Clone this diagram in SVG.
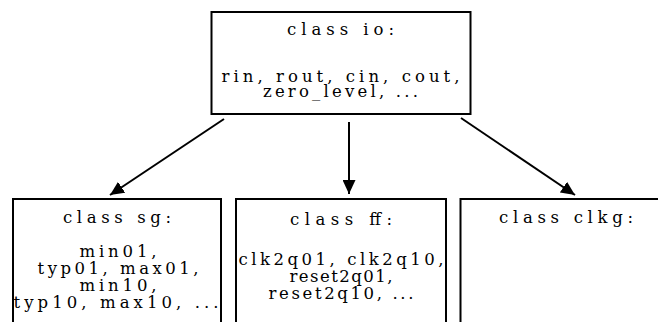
<svg xmlns="http://www.w3.org/2000/svg" width="658" height="322" viewBox="0 0 658 322">
<style>
.box{fill:#fff;stroke:#000;stroke-width:2}
.t{font-family:"DejaVu Serif","Liberation Serif",serif;font-size:16.5px;fill:#000;text-anchor:middle}
.e{stroke:#000;stroke-width:2;fill:none}
</style>
<defs>
<marker id="ah" markerUnits="userSpaceOnUse" markerWidth="15" markerHeight="13" refX="14" refY="6.5" orient="auto">
<path d="M0,0 L14,6.5 L0,13 z" fill="#000"/>
</marker>
</defs>
<rect width="658" height="322" fill="#fff"/>
<g id="edges">
<line class="e" x1="224" y1="119" x2="110" y2="195" marker-end="url(#ah)"/>
<line class="e" x1="349" y1="122" x2="349" y2="194" marker-end="url(#ah)"/>
<line class="e" x1="461" y1="118" x2="575" y2="195" marker-end="url(#ah)"/>
</g>
<g id="io">
<rect class="box" x="211.5" y="12" width="259" height="102"/>
<text class="t" x="340.5" y="35" textLength="107" lengthAdjust="spacing">class io:</text>
<text class="t" x="340.5" y="82" textLength="238" lengthAdjust="spacing">rin, rout, cin, cout,</text>
<text class="t" x="340.5" y="97" textLength="155" lengthAdjust="spacing">zero_level, ...</text>
</g>
<g id="sg">
<rect class="box" x="13" y="199" width="208" height="140"/>
<text class="t" x="117" y="223" textLength="108" lengthAdjust="spacing">class sg:</text>
<text class="t" x="118" y="257" textLength="77" lengthAdjust="spacing">min01,</text>
<text class="t" x="118" y="274" textLength="161" lengthAdjust="spacing">typ01, max01,</text>
<text class="t" x="118" y="291" textLength="77" lengthAdjust="spacing">min10,</text>
<text class="t" x="116" y="308" textLength="205" lengthAdjust="spacing">typ10, max10, ...</text>
</g>
<g id="ff">
<rect class="box" x="236" y="199" width="210" height="140"/>
<text class="t" x="341" y="225" textLength="102" lengthAdjust="spacing">class ff:</text>
<text class="t" x="341" y="265" textLength="205" lengthAdjust="spacing">clk2q01, clk2q10,</text>
<text class="t" x="341" y="282" textLength="103" lengthAdjust="spacing">reset2q01,</text>
<text class="t" x="341" y="299" textLength="145" lengthAdjust="spacing">reset2q10, ...</text>
</g>
<g id="clkg">
<rect class="box" x="460.5" y="199" width="210" height="140"/>
<text class="t" x="566" y="223" textLength="134" lengthAdjust="spacing">class clkg:</text>
</g>
</svg>
